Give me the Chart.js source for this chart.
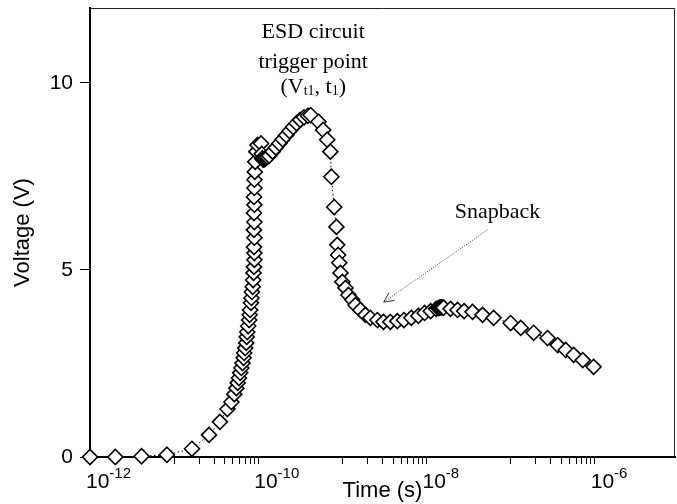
<!DOCTYPE html>
<html>
<head>
<meta charset="utf-8">
<script src="https://cdn.jsdelivr.net/npm/chart.js@4.4.0/dist/chart.umd.min.js"></script>
<style>
html, body { margin: 0; padding: 0; background: #fff; }
</style>
</head>
<body>
<canvas id="VoltageChart" width="677" height="504"></canvas>
<script>
// time (s) and voltage (V) of the measured trace
var TimeS = [
    1.0e-12, 2.0e-12, 4.1e-12, 8.2e-12, 1.63e-11, 2.6e-11, 3.5e-11, 4.3e-11, 4.8e-11, 5.2e-11,
    5.5e-11, 5.7e-11, 5.9e-11, 6.1e-11, 6.3e-11, 6.5e-11, 6.7e-11, 6.8e-11, 7.0e-11, 7.2e-11,
    7.3e-11, 7.4e-11, 7.6e-11, 7.8e-11, 7.9e-11, 8.0e-11, 8.2e-11, 8.3e-11, 8.4e-11, 8.6e-11,
    8.7e-11, 8.8e-11, 8.9e-11, 9.0e-11, 9.0e-11, 8.9e-11, 9.0e-11, 8.9e-11, 9.0e-11, 8.9e-11,
    9.0e-11, 8.9e-11, 9.0e-11, 9.0e-11, 9.1e-11, 9.2e-11, 9.5e-11, 9.8e-11, 1.08e-10, 1.10e-10,
    1.12e-10, 1.14e-10, 1.16e-10, 1.19e-10, 1.22e-10, 1.25e-10, 1.28e-10, 1.35e-10, 1.48e-10, 1.62e-10,
    1.78e-10, 1.95e-10, 2.15e-10, 2.35e-10, 2.6e-10, 2.85e-10, 3.15e-10, 3.5e-10, 3.9e-10, 4.2e-10,
    5.2e-10, 5.9e-10, 6.6e-10, 7.2e-10, 7.4e-10, 8.0e-10, 8.5e-10, 8.7e-10, 8.9e-10, 9.2e-10,
    9.5e-10, 1.0e-9, 1.09e-9, 1.18e-9, 1.31e-9, 1.43e-9, 1.64e-9, 1.88e-9, 2.15e-9, 2.61e-9,
    3.08e-9, 3.72e-9, 4.5e-9, 5.4e-9, 6.6e-9, 8.0e-9, 9.5e-9, 1.12e-8, 1.3e-8, 1.38e-8,
    1.43e-8, 1.48e-8, 1.52e-8, 1.56e-8, 1.6e-8, 1.93e-8, 2.34e-8, 2.8e-8, 3.53e-8, 4.64e-8,
    6.28e-8, 1.0e-7, 1.32e-7, 1.88e-7, 2.75e-7, 3.63e-7, 4.52e-7, 5.62e-7, 7.2e-7, 9.7e-7
];
var VoltageV = [
    0.00, 0.00, 0.02, 0.06, 0.22, 0.59, 0.94, 1.28, 1.47, 1.68,
    1.84, 1.98, 2.11, 2.25, 2.38, 2.51, 2.65, 2.78, 2.91, 3.05,
    3.21, 3.34, 3.50, 3.66, 3.80, 3.93, 4.12, 4.25, 4.41, 4.55,
    4.73, 4.92, 5.08, 5.27, 5.45, 5.61, 5.86, 6.07, 6.28, 6.52,
    6.74, 6.95, 7.19, 7.41, 7.62, 7.89, 8.16, 8.34, 8.38, 8.10,
    7.98, 7.95, 7.95, 7.96, 7.98, 8.00, 8.02, 8.05, 8.16, 8.27,
    8.38, 8.49, 8.60, 8.71, 8.82, 8.92, 9.01, 9.08, 9.12, 9.14,
    8.96, 8.74, 8.48, 8.16, 7.49, 6.68, 6.15, 5.67, 5.40, 5.19,
    4.92, 4.68, 4.52, 4.33, 4.20, 4.06, 3.93, 3.80, 3.72, 3.66,
    3.61, 3.61, 3.63, 3.66, 3.72, 3.77, 3.85, 3.90, 3.96, 3.98,
    3.99, 4.00, 4.00, 3.99, 3.99, 3.96, 3.93, 3.90, 3.88, 3.80,
    3.72, 3.58, 3.45, 3.32, 3.18, 2.99, 2.86, 2.73, 2.59, 2.41
];

var MajorTicks = [1e-12, 1e-10, 1e-8, 1e-6];
var MajorExps = ['-12', '-10', '-8', '-6'];
var MinorDecades = [1e-11, 1e-9, 1e-7];
var YTicks = [0, 5, 10];

// annotations, in data units (time, voltage)
var NoteTime = 4.5e-10;
var NoteVolts = [11.34, 10.56, 9.87];
var SnapAt = [7.0e-8, 6.55];
var ArrowFrom = [5.3e-8, 6.07];
var ArrowTo = [3.1e-9, 4.14];

var points = TimeS.map(function(t, i) { return { x: t, y: VoltageV[i] }; });

var SANS = '"Liberation Sans", Arial, sans-serif';
var SERIF = '"Liberation Serif", "Times New Roman", serif';

function noPad(scale) {
    scale.paddingTop = 0;
    scale.paddingBottom = 0;
    scale.paddingLeft = 0;
    scale.paddingRight = 0;
}

var frameAndNotes = {
    id: 'frameAndNotes',
    afterDatasetsDraw: function(chart) {
        var ctx = chart.ctx;
        var a = chart.chartArea;
        var xs = chart.scales.x, ys = chart.scales.y;
        ctx.save();
        // top and right edges of the frame
        ctx.strokeStyle = '#222';
        ctx.lineWidth = 1;
        ctx.beginPath();
        ctx.moveTo(a.left, a.top + 0.5);
        ctx.lineTo(a.right - 0.5, a.top + 0.5);
        ctx.lineTo(a.right - 0.5, a.bottom);
        ctx.stroke();

        // power-of-ten labels under the major x ticks
        ctx.fillStyle = '#000';
        ctx.textBaseline = 'alphabetic';
        ctx.textAlign = 'left';
        MajorTicks.forEach(function(v, i) {
            var x = xs.getPixelForValue(v) - 4;
            var y = a.bottom + 31;
            ctx.font = '21px ' + SANS;
            ctx.fillText('10', x, y);
            var w = ctx.measureText('10').width;
            ctx.font = '15px ' + SANS;
            ctx.fillText(MajorExps[i], x + w, y - 10);
        });

        // ESD text block
        ctx.textAlign = 'center';
        ctx.textBaseline = 'middle';
        var big = '22px ' + SERIF;
        var small = '14px ' + SERIF;
        var cx = xs.getPixelForValue(NoteTime);
        ctx.font = big;
        ctx.fillText('ESD circuit', cx, ys.getPixelForValue(NoteVolts[0]));
        ctx.fillText('trigger point', cx, ys.getPixelForValue(NoteVolts[1]));

        var parts = [['(V', big, 0], ['t1', small, 4], [', t', big, 0], ['1', small, 4], [')', big, 0]];
        var total = 0;
        parts.forEach(function(p) { ctx.font = p[1]; total += ctx.measureText(p[0]).width; });
        var px = cx - total / 2;
        var py = ys.getPixelForValue(NoteVolts[2]);
        ctx.textAlign = 'left';
        parts.forEach(function(p) {
            ctx.font = p[1];
            ctx.fillText(p[0], px, py + p[2]);
            px += ctx.measureText(p[0]).width;
        });

        // Snapback label and arrow
        ctx.textAlign = 'center';
        ctx.font = big;
        ctx.fillText('Snapback', xs.getPixelForValue(SnapAt[0]), ys.getPixelForValue(SnapAt[1]));

        var x1 = xs.getPixelForValue(ArrowFrom[0]), y1 = ys.getPixelForValue(ArrowFrom[1]);
        var x2 = xs.getPixelForValue(ArrowTo[0]), y2 = ys.getPixelForValue(ArrowTo[1]);
        ctx.strokeStyle = '#333';
        ctx.lineWidth = 1;
        ctx.setLineDash([1, 1.5]);
        ctx.beginPath();
        ctx.moveTo(x1, y1);
        ctx.lineTo(x2, y2);
        ctx.stroke();
        ctx.setLineDash([]);
        var ang = Math.atan2(y1 - y2, x1 - x2);
        ctx.beginPath();
        ctx.moveTo(x2 + 11 * Math.cos(ang + 0.45), y2 + 11 * Math.sin(ang + 0.45));
        ctx.lineTo(x2, y2);
        ctx.lineTo(x2 + 11 * Math.cos(ang - 0.45), y2 + 11 * Math.sin(ang - 0.45));
        ctx.stroke();
        ctx.restore();
    }
};

function ShowVoltageChart() {
    var ctx = document.getElementById('VoltageChart');
    new Chart(ctx, {
        type: 'scatter',
        data: {
            datasets: [{
                data: points,
                showLine: true,
                borderColor: '#000',
                borderWidth: 1,
                borderDash: [1.5, 2.5],
                pointStyle: 'rectRot',
                pointRadius: 7.5,
                pointHoverRadius: 7.5,
                pointBorderWidth: 1.6,
                pointBorderColor: '#000',
                pointBackgroundColor: '#fff',
                clip: false
            }]
        },
        options: {
            responsive: false,
            animation: false,
            devicePixelRatio: 1,
            layout: { autoPadding: false, padding: { top: 8, right: 2, left: 0, bottom: 0 } },
            plugins: {
                legend: { display: false },
                tooltip: { enabled: false }
            },
            scales: {
                x: {
                    type: 'logarithmic',
                    min: 1e-12,
                    max: 9e-6,
                    afterBuildTicks: function(scale) {
                        var t = MajorTicks.map(function(v) { return { value: v }; });
                        MinorDecades.forEach(function(d) {
                            for (var n = 1; n <= 9; n++) t.push({ value: n * d });
                        });
                        t.sort(function(a, b) { return a.value - b.value; });
                        scale.ticks = t;
                    },
                    afterFit: function(scale) { scale.height = 47; noPad(scale); },
                    ticks: {
                        autoSkip: false,
                        maxRotation: 0,
                        color: '#000',
                        font: { family: SANS, size: 21 },
                        callback: function() { return ''; }
                    },
                    grid: {
                        display: true,
                        drawOnChartArea: false,
                        drawTicks: true,
                        tickLength: 7,
                        color: '#000',
                        lineWidth: 1
                    },
                    border: { display: true, width: 2, color: '#000' },
                    title: {
                        display: true,
                        text: 'Time (s)',
                        color: '#000',
                        font: { family: SANS, size: 22 },
                        padding: { top: 1, bottom: 0 }
                    }
                },
                y: {
                    min: 0,
                    max: 12,
                    afterBuildTicks: function(scale) {
                        scale.ticks = YTicks.map(function(v) { return { value: v }; });
                    },
                    afterFit: function(scale) { scale.width = 90; noPad(scale); },
                    ticks: {
                        padding: 7,
                        color: '#000',
                        font: { family: SANS, size: 21 }
                    },
                    grid: {
                        display: true,
                        drawOnChartArea: false,
                        drawTicks: true,
                        tickLength: 10,
                        color: '#000',
                        lineWidth: 1
                    },
                    border: { display: true, width: 2, color: '#000' },
                    title: {
                        display: true,
                        text: 'Voltage (V)',
                        color: '#000',
                        font: { family: SANS, size: 22 },
                        padding: { top: 10, bottom: 0 }
                    }
                }
            }
        },
        plugins: [frameAndNotes]
    });
}

ShowVoltageChart();
</script>
</body>
</html>
